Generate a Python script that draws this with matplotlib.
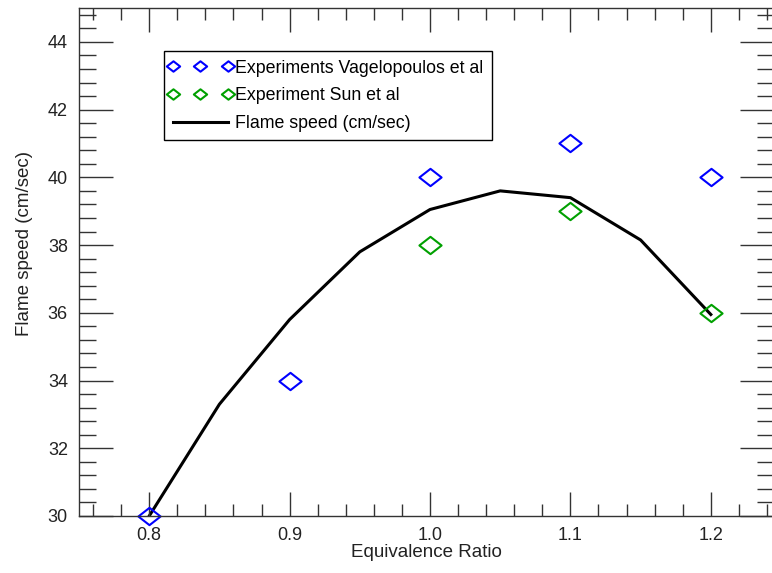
import numpy as np
import matplotlib.pyplot as plt
from matplotlib.path import Path
from matplotlib.lines import Line2D
from matplotlib.legend_handler import HandlerLine2D
from matplotlib.ticker import MultipleLocator

# Laminar flame speed vs equivalence ratio
phi_model = [0.80, 0.85, 0.90, 0.95, 1.00, 1.05, 1.10, 1.15, 1.20]
speed_model = [30.0, 33.3, 35.8, 37.8, 39.05, 39.6, 39.4, 38.15, 35.95]

phi_vag = [0.8, 0.9, 1.0, 1.1, 1.2]
speed_vag = [30, 34, 40, 41, 40]

phi_sun = [1.0, 1.1, 1.2]
speed_sun = [38, 39, 36]

plt.rcParams['font.family'] = ['Liberation Sans', 'DejaVu Sans']

# wide diamond marker
diamond = Path([(-1, 0), (0, 0.78), (1, 0), (0, -0.78), (-1, 0)],
               [Path.MOVETO, Path.LINETO, Path.LINETO, Path.LINETO, Path.CLOSEPOLY])

W, H = 772, 573
fig = plt.figure(figsize=(W / 100, H / 100), dpi=100)
ax = fig.add_axes([79 / W, 1 - 516 / H, (774 - 79) / W, (516 - 8) / H])

ax.plot(phi_vag, speed_vag, linestyle='none', marker=diamond, markersize=16,
        markerfacecolor='none', markeredgecolor='#0000ff', markeredgewidth=1.5,
        label='Experiments Vagelopoulos et al', clip_on=False)
ax.plot(phi_sun, speed_sun, linestyle='none', marker=diamond, markersize=16,
        markerfacecolor='none', markeredgecolor='#00a000', markeredgewidth=1.5,
        label='Experiment Sun et al', clip_on=False)
ax.plot(phi_model, speed_model, color='black', linewidth=2.2,
        label='Flame speed (cm/sec)', zorder=1)

ax.set_xlim(0.75, 1.245)
ax.set_ylim(30, 45)
ax.xaxis.set_minor_locator(MultipleLocator(0.02))
ax.yaxis.set_minor_locator(MultipleLocator(0.4))
ax.set_xticks([0.8, 0.9, 1.0, 1.1, 1.2])
ax.set_xticklabels(['0.8', '0.9', '1.0', '1.1', '1.2'])
ax.set_yticks([30, 32, 34, 36, 38, 40, 42, 44])

for s in ax.spines.values():
    s.set_color('#333333')
    s.set_linewidth(1.0)

ax.tick_params(which='both', direction='in', top=True, right=True,
               color='#333333', width=1.0, labelsize=13, labelcolor='#222222')
ax.tick_params(axis='x', which='major', length=17, pad=8)
ax.tick_params(axis='x', which='minor', length=8.5)
ax.tick_params(axis='y', which='major', length=24.5, pad=8)
ax.tick_params(axis='y', which='minor', length=12.5)

ax.set_xlabel('Equivalence Ratio', fontsize=13.5, color='#222222', labelpad=0)
ax.set_ylabel('Flame speed (cm/sec)', fontsize=13.5, color='#222222')
ax.yaxis.set_label_coords((33 - 79) / (774 - 79), (516 - 243) / 508)

leg = ax.legend(loc='upper left', bbox_to_anchor=(164 / W, 1 - 51 / H),
                bbox_transform=fig.transFigure, borderaxespad=0,
                handler_map={Line2D: HandlerLine2D(marker_pad=0)},
                numpoints=3, markerscale=0.6, fontsize=12.8,
                handlelength=3.1, handletextpad=0.4, borderpad=0.48,
                labelspacing=0.6, fancybox=False, framealpha=1)
leg.get_frame().set_edgecolor('black')
leg.get_frame().set_linewidth(1.0)

fig.savefig('out.png', dpi=100)
